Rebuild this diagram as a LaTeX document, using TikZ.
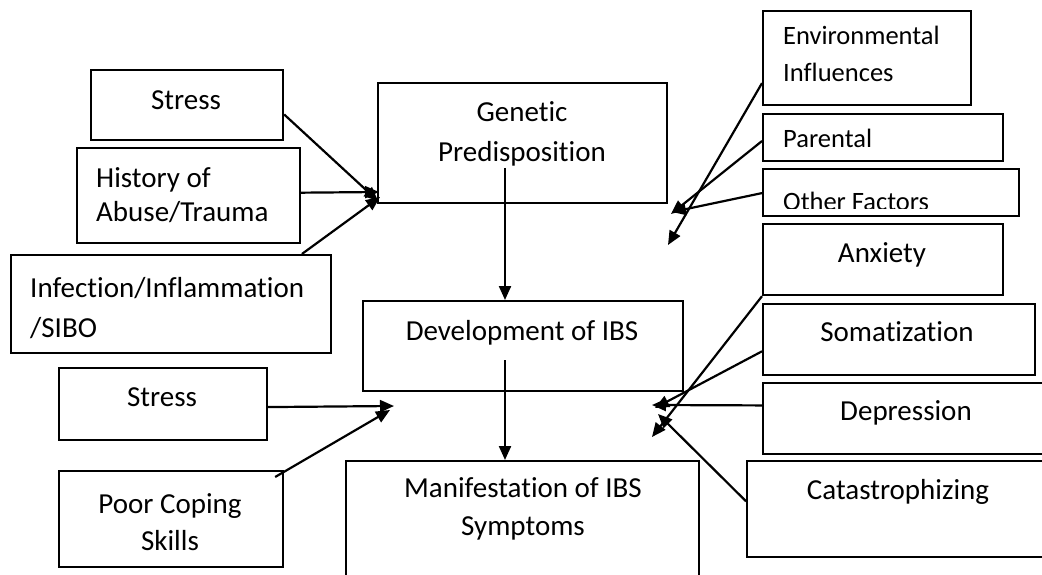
\documentclass[tikz,border=0pt]{standalone}
\usepackage{fontspec}
\setmainfont{Carlito}[Ligatures=NoCommon]
\usetikzlibrary{arrows.meta,calc}
\begin{document}
\begin{tikzpicture}[x=1pt,y=-1pt,
  box/.style={draw,line width=2.2pt,rectangle,anchor=north west,inner sep=0pt},
  txt/.style={inner sep=0pt,anchor=base,align=center,font=\fontsize{29}{40}\selectfont},
  txl/.style={inner sep=0pt,anchor=base west,align=left,font=\fontsize{29}{40}\selectfont},
  txs/.style={inner sep=0pt,anchor=base west,align=left,font=\fontsize{26.5}{37}\selectfont},
  arr/.style={line width=2.2pt,-{Triangle[length=14pt,width=12pt]}}]
\useasboundingbox (0,0) rectangle (1042,575);
\clip (0,0) rectangle (1042,575);
% left top boxes
\node[box,minimum width=192pt,minimum height=70pt] (sA) at (90,69) {};
\node[txt] (sAt) at (186,110) {Stress};
\node[box,minimum width=223pt,minimum height=95pt] (hi) at (76,147) {};
\node[txl,font=\fontsize{29}{33}\selectfont] (hit) at (96,221) {History of\\Abuse/Trauma};
\node[box,minimum width=320pt,minimum height=98pt] (inf) at (10,254) {};
\node[txl] (inft) at (30,337) {Infection/Inflammation\\/SIBO};
% centre boxes
\node[box,minimum width=289pt,minimum height=120pt] (gen) at (377,82) {};
\node[txt] (gent) at (522,162) {Genetic\\Predisposition};
\node[box,minimum width=320pt,minimum height=90pt] (dev) at (362,300) {};
\node[txt] (devt) at (522,340) {Development of IBS};
\node[box,minimum width=353pt,minimum height=130pt] (man) at (345,460) {};
\node[txt,font=\fontsize{29}{38}\selectfont] (mant) at (523,535) {Manifestation of IBS\\Symptoms};
% left bottom boxes
\node[box,minimum width=208pt,minimum height=72pt] (s2) at (58,367) {};
\node[txt] (s2t) at (162,406) {Stress};
\node[box,minimum width=224pt,minimum height=96pt] (pc) at (58,470) {};
\node[txt,font=\fontsize{29}{37}\selectfont] (pct) at (170,550) {Poor Coping\\Skills};
% right top boxes
\node[box,minimum width=208pt,minimum height=94pt] (env) at (762,10) {};
\node[txs] (envt) at (783,82) {Environmental\\Influences};
\node[box,minimum width=240pt,minimum height=47pt] (par) at (762,113) {};
\node[txs] (part) at (783,148) {Parental};
\node[box,minimum width=256pt,minimum height=47pt] (oth) at (762,168) {};
\begin{scope}
\clip (762,168) rectangle (1018,208);
\node[txs] (otht) at (783,211) {Other Factors};
\end{scope}
% right bottom boxes
\node[box,minimum width=240pt,minimum height=71pt] (anx) at (762,223) {};
\node[txt] (anxt) at (882,262) {Anxiety};
\node[box,minimum width=272pt,minimum height=71pt] (som) at (762,303) {};
\node[txt] (somt) at (897,341) {Somatization};
\node[box,minimum width=300pt,minimum height=71pt] (dep) at (762,382) {};
\node[txt] (dept) at (906,420) {Depression};
\node[box,minimum width=320pt,minimum height=96pt] (cat) at (746,460) {};
\node[txt] (catt) at (898,499) {Catastrophizing};
% arrow targets
\coordinate (tl1) at (378,201);
\coordinate (tl2) at (379,192);
\coordinate (tl3) at (380,197);
\coordinate (ga) at (505,168);
\coordinate (db) at (505,360);
\coordinate (bl1) at (394,406);
\coordinate (bl2) at (390,410);
\coordinate (tr1) at (668,245);
\coordinate (tr2) at (671,214);
\coordinate (tr3) at (672,212);
\coordinate (br1) at (652,437);
\coordinate (br2) at (655,408);
\coordinate (br3) at (652,405);
\coordinate (br4) at (658,414);
% arrows
\draw[arr] ($(sA.north east)!0.63!(sA.south east)$) -- (tl1);
\draw[arr] ($(hi.north east)!0.47!(hi.south east)$) -- (tl2);
\draw[arr] ($(inf.north west)!0.906!(inf.north east)$) -- (tl3);
\draw[arr] (ga) -- (ga |- dev.north);
\draw[arr] (db) -- (db |- man.north);
\draw[arr] ($(s2.north east)!0.54!(s2.south east)$) -- (bl1);
\draw[arr] ($(pc.north west)!0.96!(pc.north east)+(0,7)$) -- (bl2);
\draw[arr] ($(env.north west)!0.76!(env.south west)$) -- (tr1);
\draw[arr] ($(par.north west)!0.57!(par.south west)$) -- (tr2);
\draw[arr] ($(oth.north west)!0.51!(oth.south west)$) -- (tr3);
\draw[arr] (anx.south west) -- (br1);
\draw[arr] ($(som.north west)!0.66!(som.south west)$) -- (br2);
\draw[arr] ($(dep.north west)!0.32!(dep.south west)$) -- (br3);
\draw[arr] ($(cat.north west)!0.42!(cat.south west)$) -- (br4);
\end{tikzpicture}
\end{document}
